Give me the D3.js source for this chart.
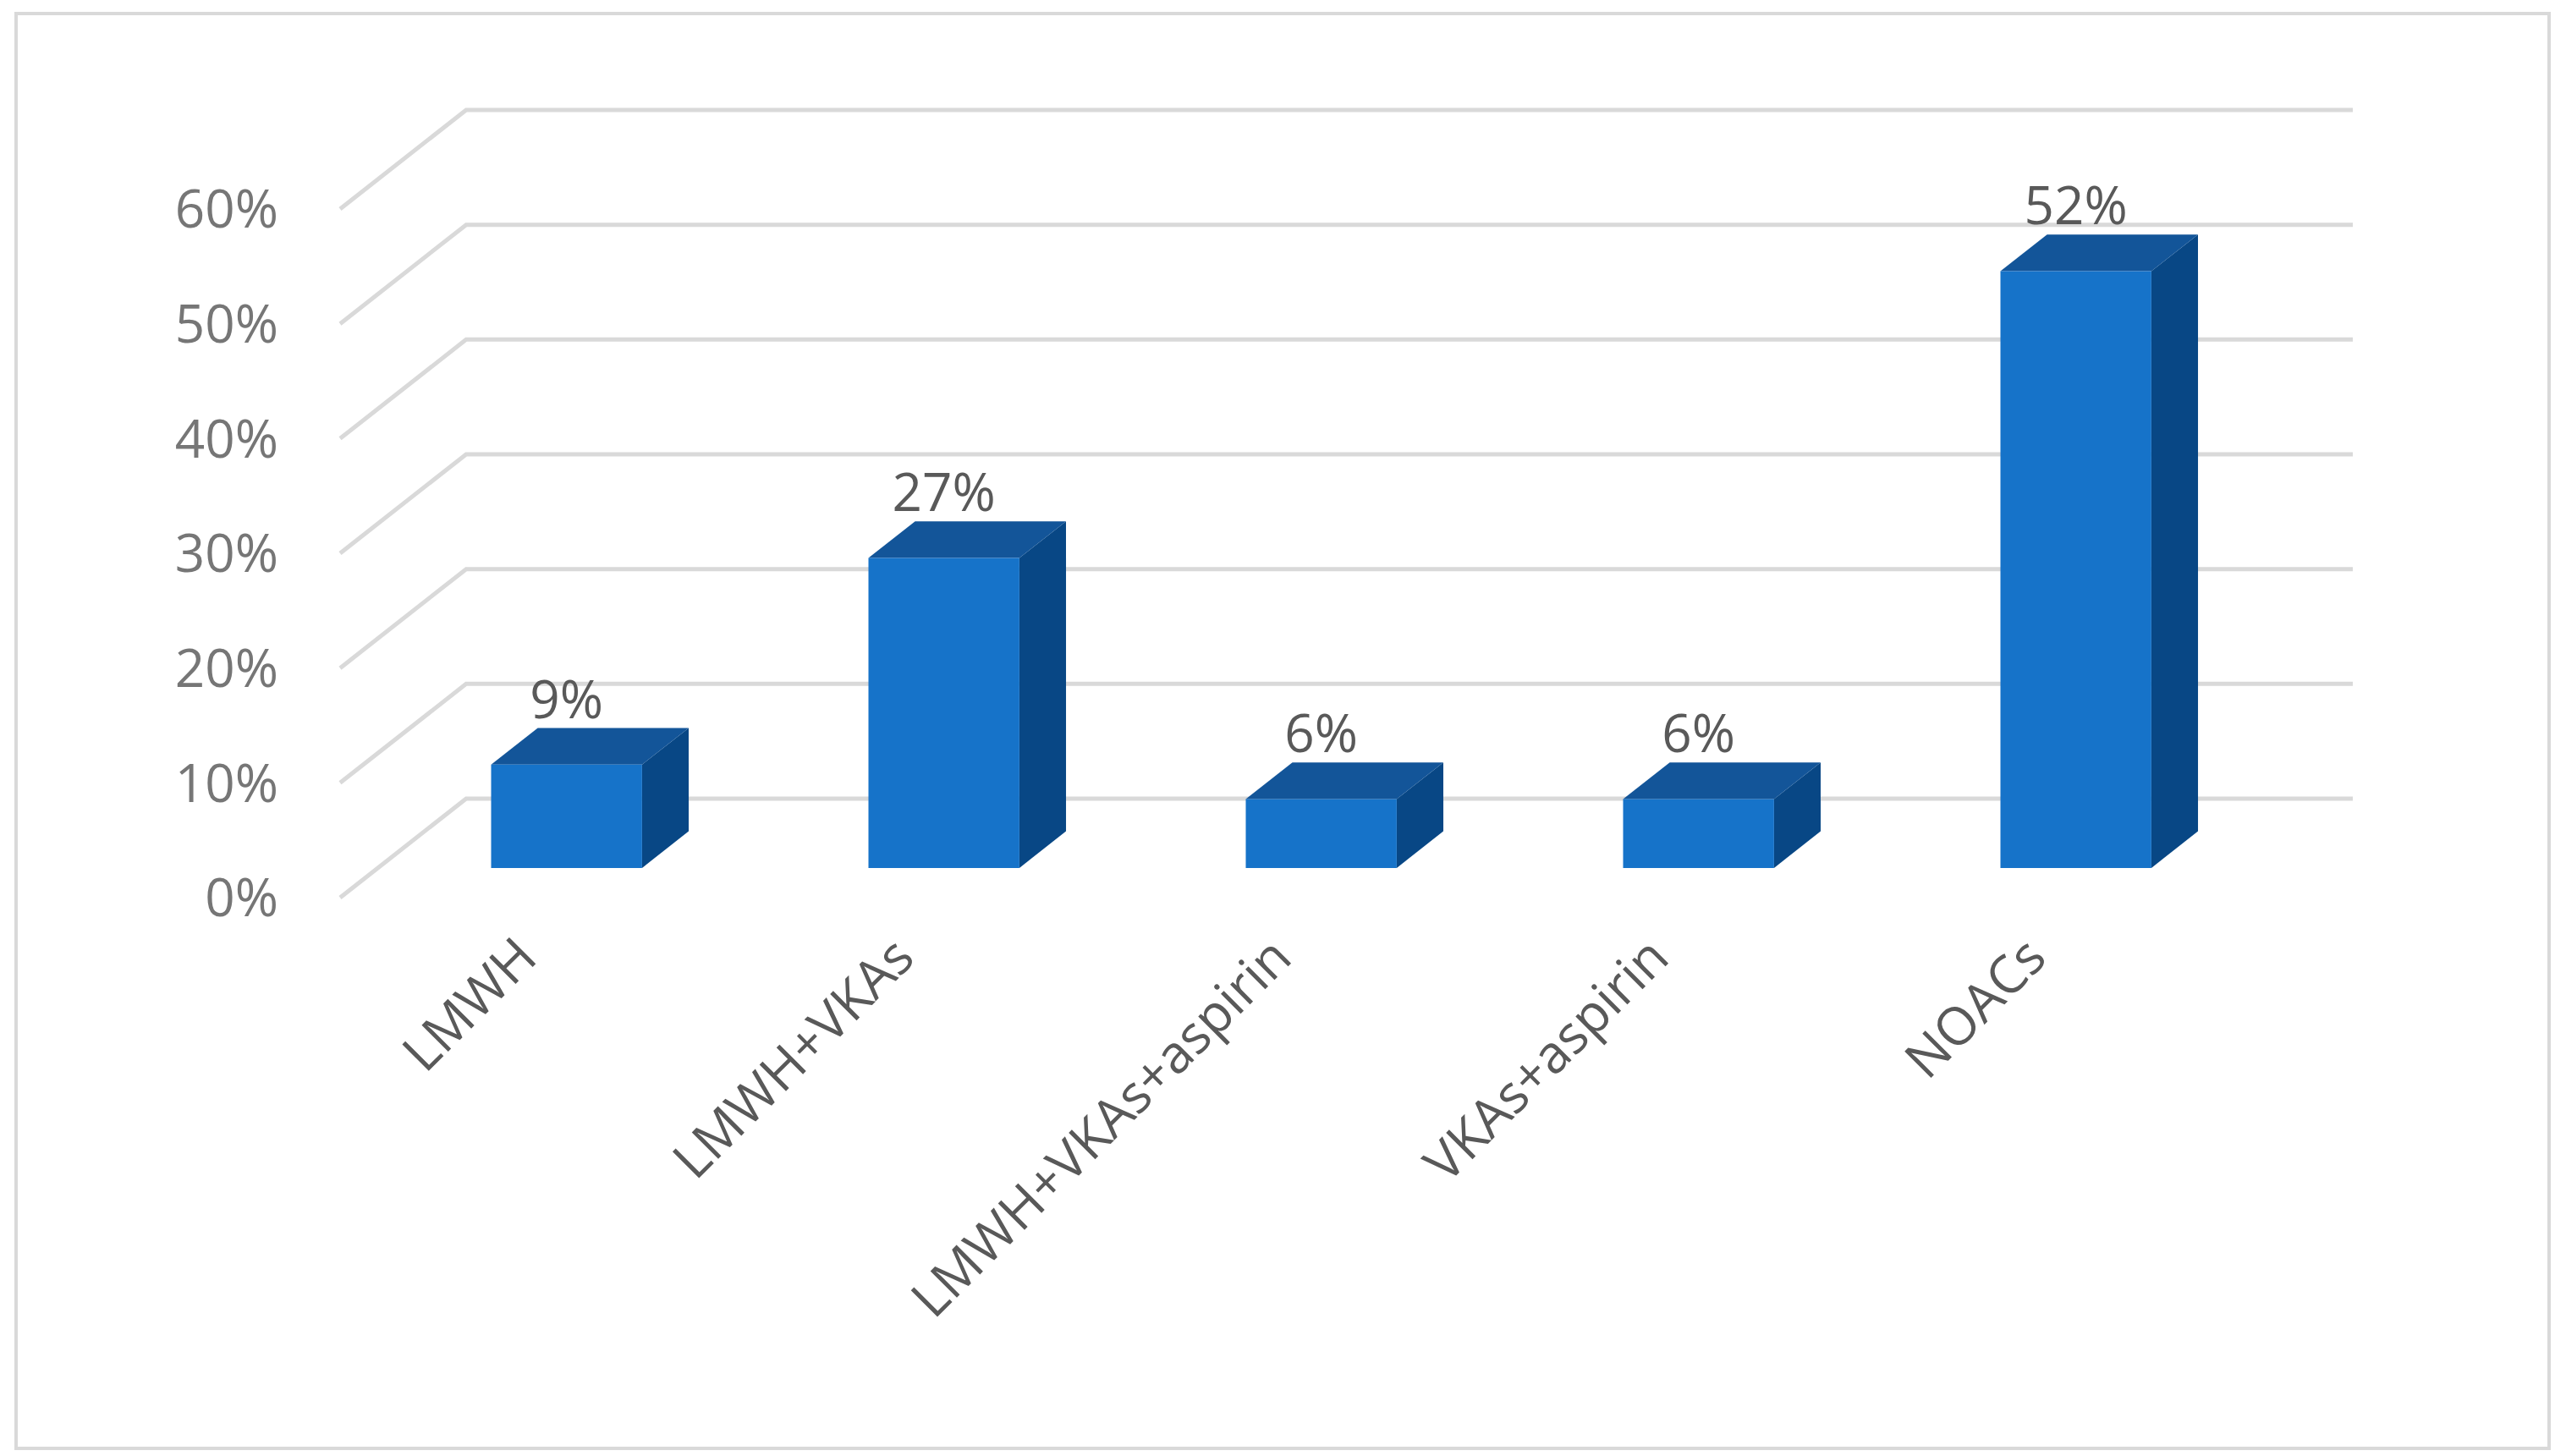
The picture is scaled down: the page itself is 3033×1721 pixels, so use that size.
<!DOCTYPE html><html><head><meta charset="utf-8"><script src="https://cdn.jsdelivr.net/npm/d3@7"></script>
<style>body{margin:0;background:#fff}</style></head><body><svg id="c" width="3033" height="1721"></svg>
<script>
const categories=["LMWH","LMWH+VKAs","LMWH+VKAs+aspirin","VKAs+aspirin","NOACs"];
const values=[0.09,0.27,0.06,0.06,0.52];
const ticks=[0,0.1,0.2,0.3,0.4,0.5,0.6];
const svg=d3.select("#c");
const F="'Open Sans','Noto Sans',sans-serif";
svg.append("rect").attr("x",19).attr("y",16).attr("width",2994).attr("height",1696).attr("fill","#fff").attr("stroke","#d9d9d9").attr("stroke-width",4);
const x0=402,DX=149,DY=117,W=2230;
const x=d3.scaleBand().domain(categories).range([0,W]).paddingInner(0.6).paddingOuter(0.3);
const y=d3.scaleLinear().domain([0,0.6]).range([944,130]);
const P=(u,v,z)=>[x0+u+z*DX, y(v)+(1-z)*DY];
const g=svg.append("g");
ticks.forEach(t=>{
  const a=P(0,t,0),b=P(0,t,1),c=P(W,t,1);
  g.append("path").attr("d",`M${a}L${b}L${c}`).attr("fill","none").attr("stroke","#d9d9d9").attr("stroke-width",5);
  g.append("text").attr("x",329).attr("y",a[1]).attr("dy","0.36em").attr("text-anchor","end")
   .attr("font-family",F).attr("font-size",62).attr("fill","#767676").text(d3.format(".0%")(t));
});
const z1=0.3,z2=0.67;
categories.forEach((c,i)=>{
  const v=values[i],u0=x(c),u1=x(c)+x.bandwidth();
  const poly=(pts,fill)=>g.append("path").attr("d","M"+pts.map(p=>p.join(",")).join("L")+"Z").attr("fill",fill);
  poly([P(u1,0,z1),P(u1,0,z2),P(u1,v,z2),P(u1,v,z1)],"#084785");
  poly([P(u0,v,z1),P(u1,v,z1),P(u1,v,z2),P(u0,v,z2)],"#135599");
  poly([P(u0,0,z1),P(u1,0,z1),P(u1,v,z1),P(u0,v,z1)],"#1673c9");
  const lp=P((u0+u1)/2,v,z2);
  g.append("text").attr("x",P((u0+u1)/2,v,z1)[0]).attr("y",lp[1]-12).attr("text-anchor","middle")
   .attr("font-family",F).attr("font-size",62).attr("fill","#595959").text(d3.format(".0%")(v));
  const bp=P((u0+u1)/2,0,z1);
  g.append("text").attr("transform",`translate(${bp[0]-32},${1135}) rotate(-45)`).attr("text-anchor","end")
   .attr("font-family",F).attr("font-size",62).attr("fill","#595959").text(c);
});
</script></body></html>
